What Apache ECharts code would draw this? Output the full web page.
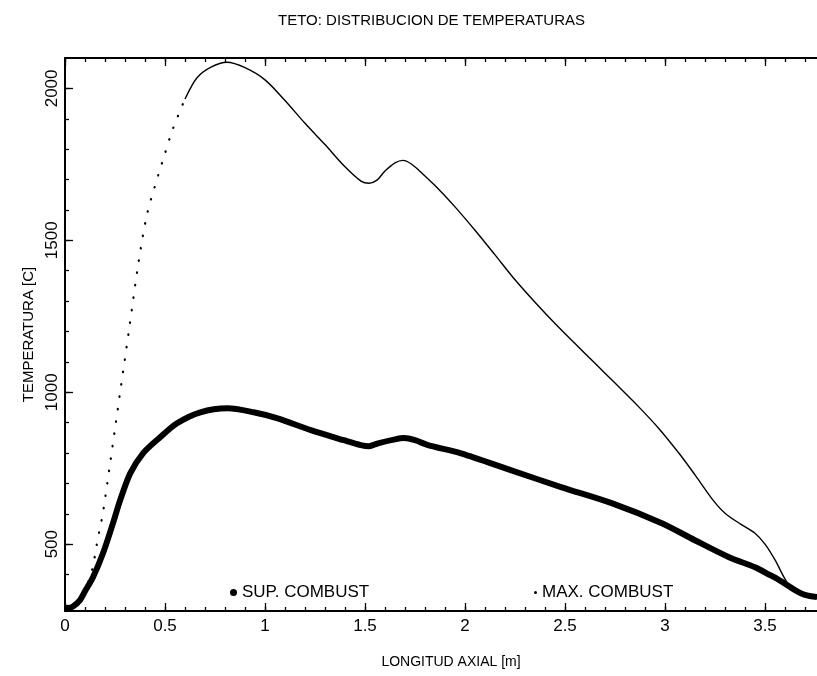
<!DOCTYPE html>
<html>
<head>
<meta charset="utf-8">
<script src="https://cdn.jsdelivr.net/npm/echarts@6/dist/echarts.min.js"></script>
<style>
  html, body { margin: 0; padding: 0; background: #fff; }
  #chart { width: 817px; height: 676px; }
</style>
</head>
<body>
<div id="chart"></div>
<script>
// ---- Data ----
const supX = [0, 0.04, 0.075, 0.10, 0.14, 0.19, 0.24, 0.276, 0.326, 0.39, 0.476, 0.56, 0.677, 0.812, 0.943, 1.063, 1.229, 1.394, 1.479, 1.52, 1.565, 1.65, 1.695, 1.75, 1.815, 1.98, 2.232, 2.48, 2.733, 2.984, 3.149, 3.32, 3.45, 3.52, 3.57, 3.65, 3.70, 3.76];
const supY = [285, 295, 316, 345, 391, 470, 569, 645, 733, 799, 852, 898, 934, 947, 934, 914, 875, 842, 826, 822, 832, 845, 849, 842, 826, 799, 743, 688, 635, 569, 513, 457, 424, 400, 382, 349, 333, 326];

const maxX = [0, 0.05, 0.10, 0.135, 0.16, 0.19, 0.22, 0.25, 0.28, 0.32, 0.366, 0.41, 0.466, 0.50, 0.54, 0.60, 0.66, 0.73, 0.81, 0.90, 1.00, 1.10, 1.20, 1.30, 1.40, 1.48, 1.52, 1.56, 1.60, 1.65, 1.69, 1.73, 1.77, 1.85, 1.95, 2.05, 2.15, 2.25, 2.35, 2.45, 2.55, 2.65, 2.75, 2.87, 2.97, 3.07, 3.15, 3.24, 3.30, 3.38, 3.45, 3.50, 3.55, 3.60, 3.63, 3.68, 3.76];
const maxY = [285, 305, 350, 414, 503, 605, 740, 880, 1020, 1205, 1420, 1585, 1714, 1786, 1868, 1965, 2035, 2070, 2086, 2068, 2028, 1960, 1885, 1815, 1742, 1695, 1688, 1698, 1728, 1755, 1763, 1752, 1730, 1680, 1610, 1533, 1452, 1370, 1296, 1226, 1160, 1095, 1030, 951, 880, 799, 728, 645, 602, 565, 536, 500, 448, 385, 358, 338, 322];
const maxDottedUntil = 0.60; // rising part drawn as sparse dots

const xTickLabels = [0, 0.5, 1, 1.5, 2, 2.5, 3, 3.5];
const xMinorTicks = [0, 0.1, 0.2, 0.3, 0.4, 0.5, 0.6, 0.7, 0.8, 0.9, 1.0, 1.1, 1.2, 1.3, 1.4, 1.5, 1.6, 1.7, 1.8, 1.9, 2.0, 2.1, 2.2, 2.3, 2.4, 2.5, 2.6, 2.7, 2.8, 2.9, 3.0, 3.1, 3.2, 3.3, 3.4, 3.5, 3.6, 3.7];
const yTickLabels = [500, 1000, 1500, 2000];
const yMinorTicks = [300, 400, 500, 600, 700, 800, 900, 1000, 1100, 1200, 1300, 1400, 1500, 1600, 1700, 1800, 1900, 2000];

const titleText = 'TETO: DISTRIBUCION DE TEMPERATURAS';
const xName = 'LONGITUD AXIAL [m]';
const yName = 'TEMPERATURA [C]';
const supName = 'SUP. COMBUST';
const maxName = 'MAX. COMBUST';

// ---- Build ----
const supData = supX.map((x, i) => [x, supY[i]]);
const maxAll = maxX.map((x, i) => [x, maxY[i]]);
const split = maxX.findIndex(x => x >= maxDottedUntil);
const maxDotted = maxAll.slice(0, split + 1);
const maxSolid = maxAll.slice(split);

const FONT = '"Liberation Sans", Arial, sans-serif';
const X_MIN = 0, X_MAX = 3.76, Y_MIN = 280, Y_MAX = 2100;
const plain = v => String(v);

function xAxisDef(position, ticks, len, showLine, labels, name) {
  return {
    type: 'value', position: position, min: X_MIN, max: X_MAX,
    axisLine: { show: showLine, onZero: false, lineStyle: { color: '#000', width: 2 } },
    axisTick: { show: true, inside: true, length: len, customValues: ticks, lineStyle: { color: '#000', width: 1.3 } },
    axisLabel: labels ? { show: true, customValues: labels, formatter: plain, color: '#000', fontSize: 17, fontFamily: FONT, margin: 7 } : { show: false },
    splitLine: { show: false },
    name: name || '', nameLocation: 'middle', nameGap: 44,
    nameTextStyle: { color: '#000', fontSize: 14, fontFamily: FONT, padding: [0, 0, 0, 20] }
  };
}
function yAxisDef(position, ticks, len, showLine, labels, name) {
  return {
    type: 'value', position: position, min: Y_MIN, max: Y_MAX,
    axisLine: { show: showLine, onZero: false, lineStyle: { color: '#000', width: 2 } },
    axisTick: { show: true, inside: true, length: len, customValues: ticks, lineStyle: { color: '#000', width: 1.3 } },
    axisLabel: labels ? { show: true, customValues: labels, formatter: plain, rotate: 90, color: '#000', fontSize: 17, fontFamily: FONT, margin: 4 } : { show: false },
    splitLine: { show: false },
    name: name || '', nameLocation: 'middle', nameGap: 10,
    nameTextStyle: { color: '#000', fontSize: 15, fontFamily: FONT }
  };
}

const chart = echarts.init(document.getElementById('chart'), null, { renderer: 'canvas' });
chart.setOption({
  backgroundColor: '#fff',
  animation: false,
  title: {
    text: titleText, left: 273, top: 8,
    textStyle: { color: '#000', fontSize: 15, fontWeight: 'normal', fontFamily: FONT }
  },
  grid: { left: 65, right: 0, top: 58, bottom: 65, containLabel: false },
  legend: [
    { data: [{ name: supName, icon: 'circle' }], left: 225, top: 579, itemWidth: 7, itemHeight: 7, itemGap: 6,
      textStyle: { color: '#000', fontSize: 17, fontFamily: FONT } },
    { data: [{ name: maxName, icon: 'circle' }], left: 529, top: 579, itemWidth: 3, itemHeight: 3, itemGap: 6,
      textStyle: { color: '#000', fontSize: 17, fontFamily: FONT } }
  ],
  xAxis: [
    xAxisDef('bottom', xMinorTicks, 4, true, xTickLabels, xName),
    xAxisDef('bottom', xTickLabels, 8, false, null, null),
    xAxisDef('top', xMinorTicks, 4, true, null, null),
    xAxisDef('top', xTickLabels, 8, false, null, null)
  ],
  yAxis: [
    yAxisDef('left', yMinorTicks, 4, true, yTickLabels, yName),
    yAxisDef('left', yTickLabels, 8, false, null, null)
  ],
  series: [
    {
      name: supName, type: 'line', xAxisIndex: 0, yAxisIndex: 0,
      data: supData, showSymbol: false, smooth: 0.3,
      color: '#000', lineStyle: { color: '#000', width: 6, join: 'round' }
    },
    {
      name: maxName, type: 'line', xAxisIndex: 0, yAxisIndex: 0,
      data: maxDotted, showSymbol: false, smooth: 0.3,
      color: '#000', lineStyle: { color: '#000', width: 2.2, type: [0.5, 12], cap: 'round' }
    },
    {
      name: maxName, type: 'line', xAxisIndex: 0, yAxisIndex: 0,
      data: maxSolid, showSymbol: false, smooth: 0.3,
      color: '#000', lineStyle: { color: '#000', width: 1.4, join: 'round' }
    }
  ]
});
</script>
</body>
</html>
